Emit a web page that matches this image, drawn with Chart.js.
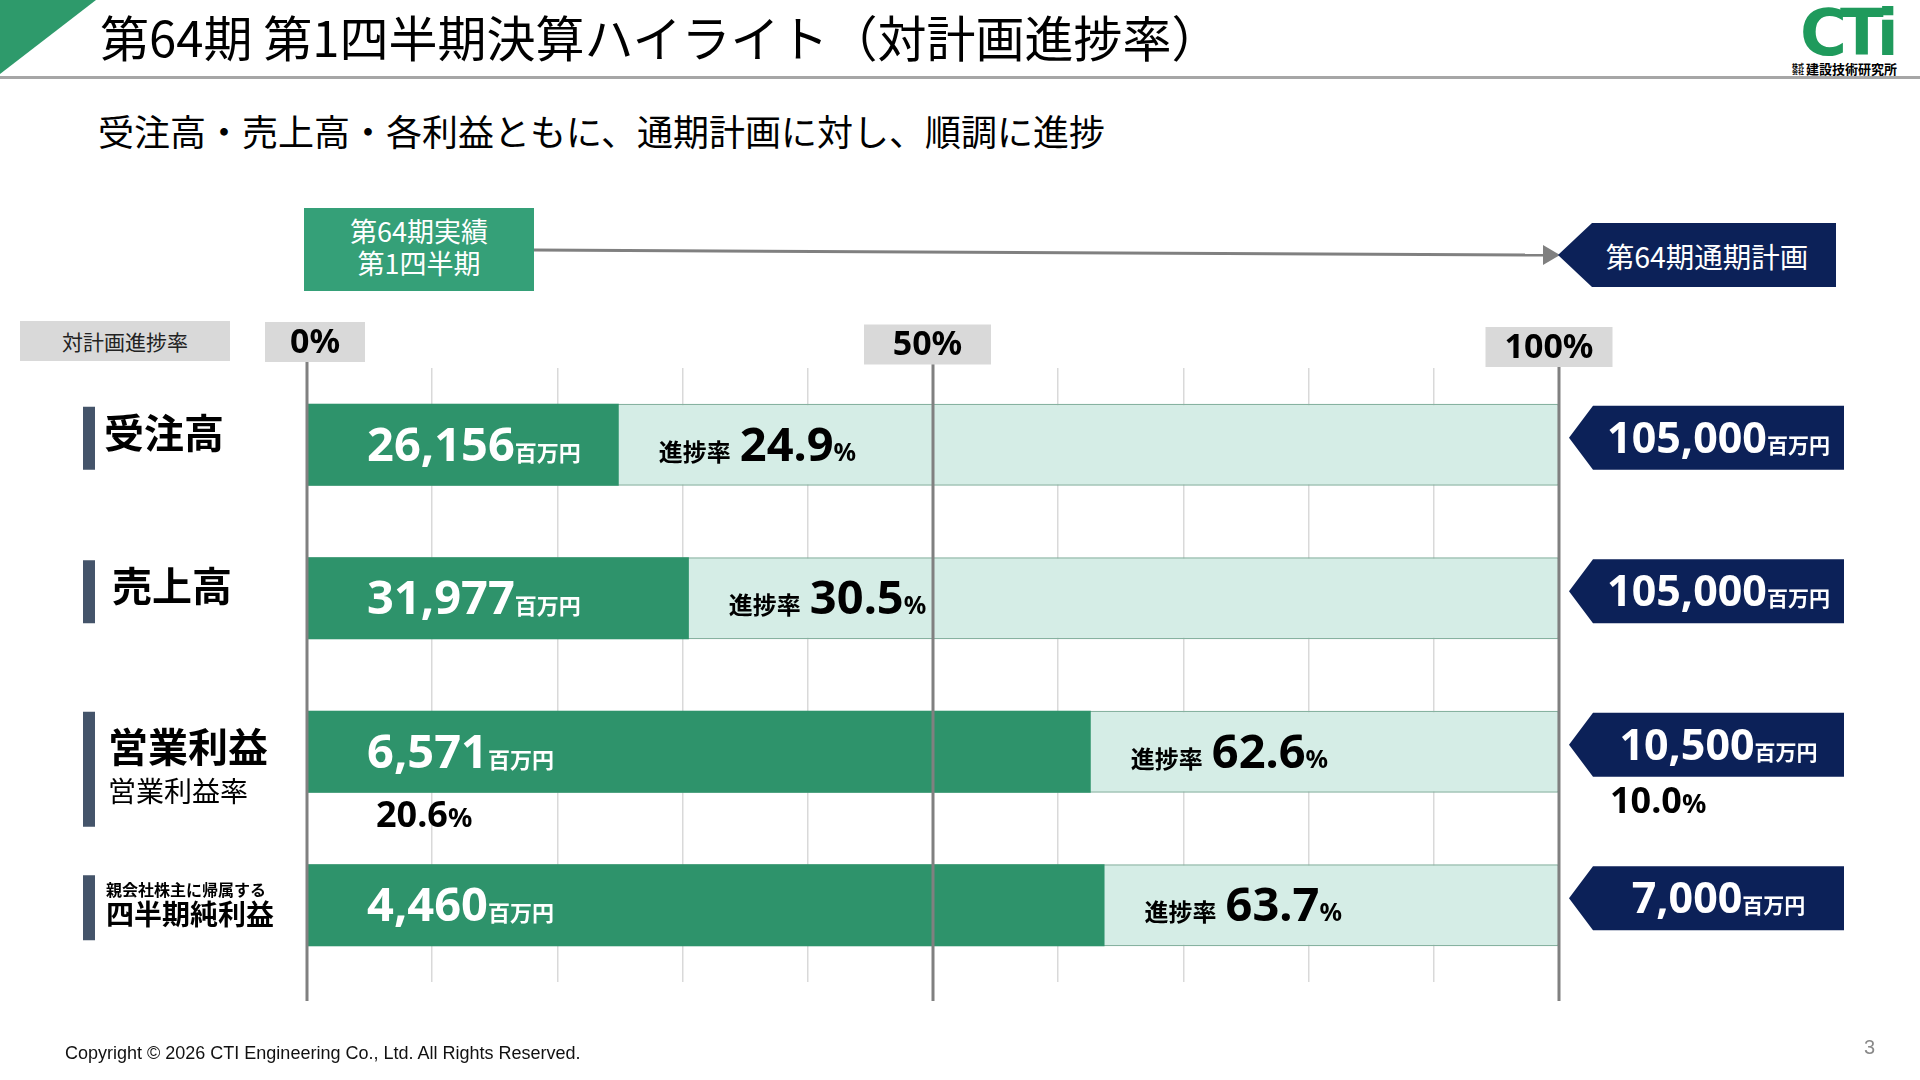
<!DOCTYPE html>
<html lang="ja"><head><meta charset="utf-8">
<script src="https://cdn.jsdelivr.net/npm/chart.js@4.4.1/dist/chart.umd.min.js"></script>
<style>
html,body{margin:0;padding:0;background:#fff;}
body{width:1920px;height:1080px;position:relative;overflow:hidden;font-family:'Noto Sans CJK JP','Noto Sans',sans-serif;color:#000;}
.abs{position:absolute;white-space:nowrap;}
#chart{position:absolute;left:0;top:0;}
#tri{left:0;top:0;width:96px;height:74px;background:#2e9a6b;clip-path:polygon(0 0,100% 0,0 100%);}
#rule{left:0;top:76px;width:1920px;height:3px;background:#a6a6a6;}
#title{left:100px;top:6px;font-size:49px;line-height:60px;}
#sub{left:98px;top:105px;font-size:36px;line-height:50px;}
#actbox{left:304px;top:208px;width:230px;height:83px;background:#35a078;color:#fff;font-size:27px;line-height:32px;display:flex;flex-direction:column;align-items:center;justify-content:center;box-sizing:border-box;padding-bottom:6px;}
#planhead{left:1558px;top:223px;width:278px;height:64px;background:#0c2158;color:#fff;font-size:28.5px;clip-path:polygon(0 50%,34px 0,100% 0,100% 100%,34px 100%);display:flex;align-items:center;justify-content:center;box-sizing:border-box;}
#planhead span{margin-left:20px;}
#ratebox{left:20px;top:321px;width:210px;height:40px;background:#d9d9d9;font-size:21px;display:flex;align-items:center;justify-content:center;color:#222;}
#foot{left:65px;top:1043px;font-family:'Liberation Sans',Arial,sans-serif;font-size:18px;color:#111;}
#pg{left:1864px;top:1036px;font-family:'Liberation Sans',Arial,sans-serif;font-size:20px;color:#8a8a8a;}
#logo{left:1792px;top:0px;width:120px;height:78px;}
#logoMark{position:absolute;left:8px;top:0px;font-family:'DejaVu Sans',sans-serif;font-weight:bold;font-size:64px;line-height:66px;color:#1f9a5c;letter-spacing:-7px;}
#logoText{position:absolute;left:0px;top:62px;font-size:13px;line-height:14px;font-weight:bold;display:flex;align-items:center;}
#logoText .st{font-size:6px;line-height:6px;width:12px;white-space:normal;margin-right:2px;}
</style></head>
<body>
<div class="abs" id="tri"></div>
<div class="abs" id="rule"></div>
<div class="abs" id="title">第64期 第1四半期決算ハイライト（対計画進捗率）</div>
<div class="abs" id="logo"><div id="logoMark">CTi</div><div id="logoText"><span class="st">株式会社</span>建設技術研究所</div></div>
<div class="abs" id="sub">受注高・売上高・各利益ともに、通期計画に対し、順調に進捗</div>
<svg class="abs" style="left:0;top:0" width="1920" height="1080">
  <line x1="534" y1="250" x2="1546" y2="255" stroke="#808080" stroke-width="3"/>
  <polygon points="1560,255 1543,245 1543,265" fill="#808080"/>
</svg>
<div class="abs" id="actbox"><div>第64期実績</div><div>第1四半期</div></div>
<div class="abs" id="planhead"><span>第64期通期計画</span></div>
<div class="abs" id="ratebox">対計画進捗率</div>
<canvas id="chart" width="1920" height="1080"></canvas>
<div class="abs" id="foot">Copyright © 2026 CTI Engineering Co., Ltd. All Rights Reserved.</div>
<div class="abs" id="pg">3</div>
<script>
// ---- data ----
const categories = ['受注高', '売上高', '営業利益', '四半期純利益'];
const categorySubLabels = [null, null, '営業利益率', null];
const categoryPreLabels = [null, null, null, '親会社株主に帰属する'];
const actualValues = [26156, 31977, 6571, 4460];      // 百万円
const planValues = [105000, 105000, 10500, 7000];     // 百万円
const progressRates = [24.9, 30.5, 62.6, 63.7];       // %
const planRates = [100, 100, 100, 100];               // %
const marginActual = [null, null, 20.6, null];        // 営業利益率 %
const marginPlan = [null, null, 10.0, null];
const axisTickLabels = [0, 50, 100];
const unitLabel = '百万円';
const progressLabel = '進捗率';

// ---- helpers ----
const NUM = '"Noto Sans", sans-serif';
const JP = '"Noto Sans CJK JP", sans-serif';
function runsWidth(ctx, runs) {
  let w = 0;
  runs.forEach(r => { ctx.font = r.font; w += ctx.measureText(r.t).width + (r.gap || 0); });
  return w;
}
function drawRuns(ctx, runs, x, baseline) {
  ctx.textBaseline = 'alphabetic'; ctx.textAlign = 'left';
  runs.forEach(r => {
    ctx.font = r.font; ctx.fillStyle = r.color || '#000';
    ctx.fillText(r.t, x, baseline);
    x += ctx.measureText(r.t).width + (r.gap || 0);
  });
}
const fmt = v => v.toLocaleString('en-US');

const overlay = {
  id: 'overlay',
  afterDatasetsDraw(chart) {
    const { ctx, chartArea: a, scales: { x, y } } = chart;
    ctx.save();
    // major reference lines (0%, 50%, 100%)
    ctx.strokeStyle = '#808080'; ctx.lineWidth = 3;
    axisTickLabels.forEach(v => {
      const px = x.getPixelForValue(v);
      ctx.beginPath(); ctx.moveTo(px, a.top - 6); ctx.lineTo(px, a.bottom + 19); ctx.stroke();
    });
    // tick label boxes
    axisTickLabels.forEach(v => {
      const px = x.getPixelForValue(v);
      const t = v + '%';
      ctx.font = 'bold 34px ' + NUM;
      const tw = ctx.measureText(t).width;
      const bw = tw < 60 ? 100 : 127;
      const cx = px + 8 - 0.36 * v + 0.0018 * v * v;
      const by = a.top - 46 + v * 0.05;
      ctx.fillStyle = '#d9d9d9';
      ctx.fillRect(cx - bw / 2, by, bw, 40);
      ctx.fillStyle = '#000'; ctx.textAlign = 'center'; ctx.textBaseline = 'middle';
      ctx.fillText(t, cx, by + 21);
    });
    const x0 = x.getPixelForValue(0);
    categories.forEach((cat, i) => {
      const c = y.getPixelForValue(i);
      const xEnd = x.getPixelForValue(progressRates[i]);
      // value label inside dark bar
      drawRuns(ctx, [
        { t: fmt(actualValues[i]), font: 'bold 47px ' + NUM, color: '#fff' },
        { t: unitLabel, font: 'bold 22px ' + JP, color: '#fff' }
      ], x0 + 60, c + 16);
      // progress label in light part
      drawRuns(ctx, [
        { t: progressLabel, font: 'bold 24px ' + JP, gap: 9 },
        { t: progressRates[i].toFixed(1), font: 'bold 47px ' + NUM },
        { t: '%', font: 'bold 25px ' + NUM }
      ], xEnd + 40, c + 16);
      // plan pentagon
      const left = a.right + 10, w = 275, pt = 24, top = c - 39, h = 64;
      ctx.fillStyle = '#0c2158';
      ctx.beginPath();
      ctx.moveTo(left, top + h / 2); ctx.lineTo(left + pt, top); ctx.lineTo(left + w, top);
      ctx.lineTo(left + w, top + h); ctx.lineTo(left + pt, top + h); ctx.closePath(); ctx.fill();
      const pr = [
        { t: fmt(planValues[i]), font: 'bold 43px ' + NUM, color: '#fff' },
        { t: unitLabel, font: 'bold 21px ' + JP, color: '#fff' }
      ];
      const pw = runsWidth(ctx, pr);
      drawRuns(ctx, pr, left + pt + (w - pt) / 2 - pw / 2, top + h / 2 + 15);
      // margins
      if (marginActual[i] != null) {
        drawRuns(ctx, [
          { t: marginActual[i].toFixed(1), font: 'bold 36px ' + NUM },
          { t: '%', font: 'bold 27px ' + NUM }
        ], x0 + 69, c + 75);
      }
      if (marginPlan[i] != null) {
        drawRuns(ctx, [
          { t: marginPlan[i].toFixed(1), font: 'bold 36px ' + NUM },
          { t: '%', font: 'bold 27px ' + NUM }
        ], a.right + 51, c + 61);
      }
      // left category labels
      let sTop, sBot;
      ctx.textAlign = 'left'; ctx.textBaseline = 'middle'; ctx.fillStyle = '#000';
      if (categoryPreLabels[i]) {
        sTop = c - 30; sBot = c + 35;
        ctx.font = 'bold 16px ' + JP; ctx.fillText(categoryPreLabels[i], 106, c - 15);
        ctx.font = 'bold 28px ' + JP; ctx.fillText(cat, 106, c + 9);
      } else if (categorySubLabels[i]) {
        sTop = c - 40; sBot = c + 75;
        ctx.font = 'bold 40px ' + JP; ctx.fillText(cat, 108, c - 5);
        ctx.font = '28px ' + JP; ctx.fillText(categorySubLabels[i], 108, c + 40);
      } else {
        sTop = c - 38; sBot = c + 25;
        ctx.font = 'bold 40px ' + JP; ctx.fillText(cat, 104 + (i === 1 ? 8 : 0), c - 12);
      }
      ctx.fillStyle = '#44546a';
      ctx.fillRect(83, sTop, 12, sBot - sTop);
    });
    ctx.restore();
  }
};

new Chart(document.getElementById('chart'), {
  type: 'bar',
  data: {
    labels: categories,
    datasets: [
      { label: '通期計画', data: planRates, backgroundColor: '#d5ede6', borderColor: '#86b2a0', borderWidth: 1.5, order: 2 },
      { label: '第1四半期実績', data: progressRates, backgroundColor: '#2e936b', borderWidth: 0, order: 1 }
    ]
  },
  options: {
    indexAxis: 'y',
    responsive: false,
    animation: false,
    events: [],
    layout: { padding: { left: 307, right: 361, top: 368, bottom: 98 } },
    datasets: { bar: { grouped: false, categoryPercentage: 1, barPercentage: 0.534 } },
    plugins: { legend: { display: false }, tooltip: { enabled: false } },
    scales: {
      x: {
        min: 0, max: 100,
        ticks: { display: false, stepSize: 10 },
        grid: { drawTicks: false, lineWidth: 1.5,
          color: c => (c.tick && c.tick.value % 50 === 0) ? 'rgba(0,0,0,0)' : '#d9d9d9' },
        border: { display: false }
      },
      y: { display: false }
    }
  },
  plugins: [overlay]
});
</script>
</body></html>
